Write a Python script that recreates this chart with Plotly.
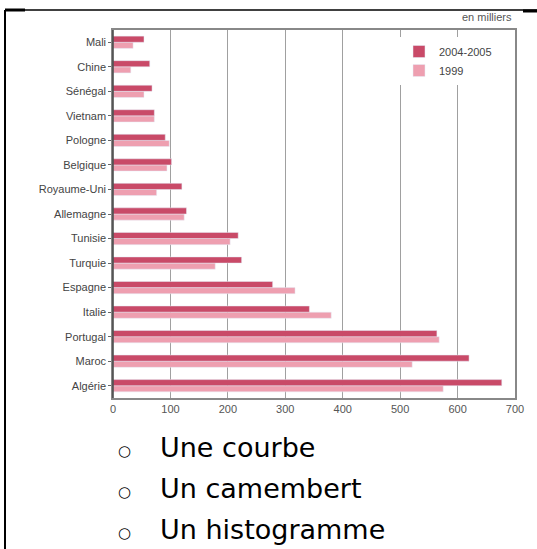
import plotly.graph_objects as go

# Données (en milliers)
pays = ["Mali", "Chine", "Sénégal", "Vietnam", "Pologne", "Belgique", "Royaume-Uni",
        "Allemagne", "Tunisie", "Turquie", "Espagne", "Italie", "Portugal", "Maroc", "Algérie"]
val_2004 = [54, 64, 68, 72, 91, 102, 120, 128, 218, 224, 278, 342, 564, 620, 677]
val_1999 = [35, 31, 54, 72, 98, 94, 76, 124, 204, 178, 317, 380, 568, 521, 575]
choix = ["Une courbe", "Un camembert", "Un histogramme"]

W, H = 537, 549
L, R, T, B = 113, 515, 30, 398


def px_x(x):
    return (x - L) / (R - L)


def px_y(y):
    return (B - y) / (B - T)


fig = go.Figure()
fig.add_trace(go.Bar(y=pays, x=val_1999, orientation="h", name="1999",
                     marker_color="#ee9fb0"))
fig.add_trace(go.Bar(y=pays, x=val_2004, orientation="h", name="2004-2005",
                     marker_color="#c94a68"))

fig.update_layout(
    width=W, height=H,
    margin=dict(l=L, r=W - R, t=T, b=H - B),
    paper_bgcolor="white", plot_bgcolor="white",
    barmode="group", bargap=0.5, bargroupgap=0,
    font=dict(family="Liberation Sans, Arial", size=11, color="#444"),
    legend=dict(x=px_x(399), y=px_y(37), xanchor="left", yanchor="top",
                traceorder="reversed", bgcolor="white",
                font=dict(size=11, color="#444"), itemwidth=30,
                tracegroupgap=0),
    showlegend=True,
)
fig.update_xaxes(range=[0, 700], dtick=100, showgrid=True, gridcolor="#a0a0a0",
                 gridwidth=1, showline=True, linecolor="#888", linewidth=1.5,
                 mirror=True, ticks="", tickfont=dict(size=11, color="#555"),
                 zeroline=False)
fig.update_yaxes(categoryorder="array", categoryarray=pays[::-1],
                 showline=True, linecolor="#888", linewidth=1.5, mirror=True,
                 ticks="outside", ticklen=3, tickcolor="#666",
                 tickfont=dict(size=11, color="#444"), showgrid=False)

# axe vertical foncé
fig.add_shape(type="line", xref="paper", yref="paper", x0=0, x1=0, y0=0, y1=1,
              line=dict(color="#444", width=1.5))

fig.add_annotation(text="en milliers", xref="paper", yref="paper",
                   x=px_x(514), y=px_y(17), xanchor="right", yanchor="middle",
                   showarrow=False, font=dict(size=11, color="#555"))

# cadre extérieur
fig.add_shape(type="line", xref="paper", yref="paper",
              x0=px_x(5), x1=px_x(5), y0=px_y(10), y1=px_y(549),
              line=dict(color="black", width=2))
fig.add_shape(type="line", xref="paper", yref="paper",
              x0=px_x(5), x1=px_x(537), y0=px_y(10), y1=px_y(10),
              line=dict(color="black", width=1.5))
fig.add_shape(type="line", xref="paper", yref="paper",
              x0=px_x(5), x1=px_x(25), y0=px_y(10), y1=px_y(10),
              line=dict(color="black", width=3))
fig.add_shape(type="line", xref="paper", yref="paper",
              x0=px_x(523), x1=px_x(537), y0=px_y(11), y1=px_y(11),
              line=dict(color="black", width=3))

# choix de réponses
for i, txt in enumerate(choix):
    base = 457 + 41 * i
    fig.add_annotation(text="○", xref="paper", yref="paper",
                       x=px_x(124), y=px_y(base - 6), xanchor="center", yanchor="middle",
                       showarrow=False, font=dict(family="DejaVu Sans", size=15, color="black"))
    fig.add_annotation(text=txt, xref="paper", yref="paper",
                       x=px_x(158), y=px_y(base - 10), xanchor="left", yanchor="middle",
                       showarrow=False,
                       font=dict(family="Comic Sans MS, DejaVu Sans", size=27, color="black"))

fig.write_html("out.html", config={"displayModeBar": False},
               post_script="document.body.style.margin='0';")
